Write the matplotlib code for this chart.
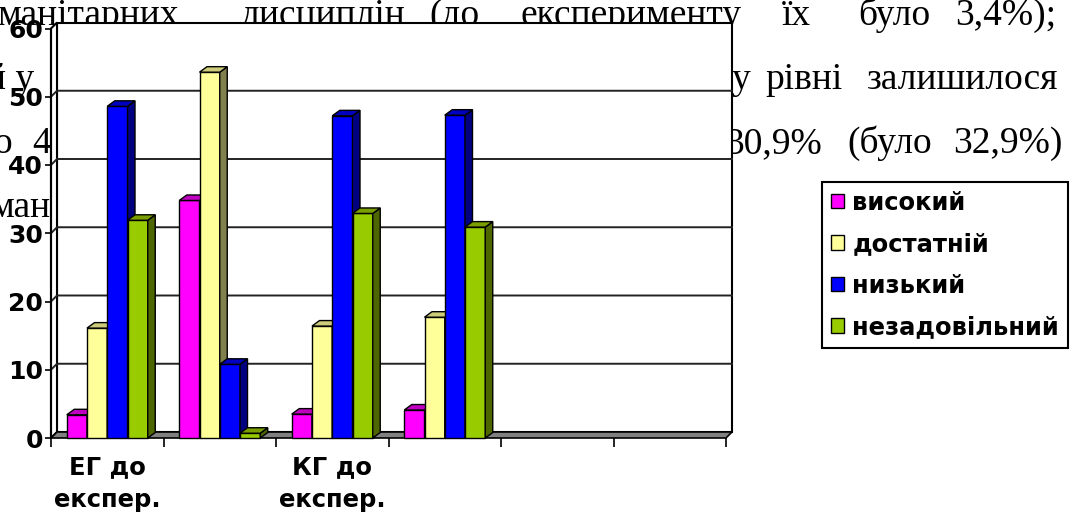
import matplotlib
matplotlib.use("Agg")
import matplotlib.pyplot as plt
from matplotlib.patches import Polygon, Patch

# categories on the x axis (the last two columns are empty)
categories = ["ЕГ до\nекспер.", "ЕГ після\nекспер.", "КГ до\nекспер.", "КГ після\nекспер.", "", ""]
levels = ["високий", "достатній", "низький", "незадовільний"]

# percentages per level
high = [3.4, 34.8, 3.5, 4.1]
sufficient = [16.1, 53.6, 16.4, 17.7]
low = [48.6, 10.8, 47.2, 47.3]
poor = [31.9, 0.7, 32.9, 30.9]
yticks = [0, 10, 20, 30, 40, 50, 60]

front_colors = ["#FF00FF", "#FFFF99", "#0000FF", "#99CC00"]
top_colors = ["#C000C0", "#CCCC7A", "#0000C0", "#7A9E00"]
side_colors = ["#800080", "#80804D", "#000080", "#4D6600"]

# page text around the chart: (baseline y, [(word, left x), ...]) in pixels
page_lines = [
    (25, [("манітарних", -3), ("дисциплін", 241), ("(до", 429), ("експерименту", 520),
          ("їх", 782), ("було", 858), ("3,4%);", 955)]),
    (89, [("й у", -14), ("у", 731), ("рівні", 765), ("залишилося", 867)]),
    (153, [("о", -6), ("4", 32), ("30,9%", 725), ("(було", 847), ("32,9%)", 953)]),
    (217, [("ман", -10)]),
]

W, H = 1080, 515
fig = plt.figure(figsize=(W / 100, H / 100), dpi=100)

for y, words in page_lines:
    for word, x in words:
        fig.text(x / W, 1 - y / H, word, family="Liberation Serif", size=27,
                 ha="left", va="baseline", zorder=-1)

ax = fig.add_axes([51 / W, (H - 438) / H, 675 / W, 409.5 / H])
n = len(categories)
top = yticks[-1]
ax.set_xlim(0, n)
ax.set_ylim(0, top)
ax.patch.set_visible(False)

# pixel sizes of the 3d depth, converted to data units
sx = 675 / n
sy = 409.5 / top
wdx, wdy = 6 / sx, 6 / sy
bdx, bdy = 7.5 / sx, 5.5 / sy

# walls and floor
ax.add_patch(Polygon([(wdx, wdy), (n + wdx, wdy), (n + wdx, top + wdy), (wdx, top + wdy)],
                     closed=True, fc="white", ec="black", lw=1.5, zorder=1, clip_on=False))
ax.add_patch(Polygon([(0, 0), (wdx, wdy), (wdx, top + wdy), (0, top)],
                     closed=True, fc="white", ec="black", lw=1.5, zorder=1, clip_on=False))
for v in yticks[1:-1]:
    ax.plot([0, wdx, n + wdx], [v, v + wdy, v + wdy], color="#222222", lw=1.4,
            zorder=1.5, clip_on=False)
ax.add_patch(Polygon([(0, 0), (n, 0), (n + wdx, wdy), (wdx, wdy)],
                     closed=True, fc="#808080", ec="black", lw=1.2, zorder=2, clip_on=False))

# 3d columns: front, right side and top face
series = [high, sufficient, low, poor]
width = 0.18
start = (1 - width * len(series)) / 2
z = 3
for i in range(len(high)):
    for j, vals in enumerate(series):
        v = vals[i]
        x0 = i + start + j * width
        x1 = x0 + width
        faces = [
            ([(x0, 0), (x1, 0), (x1, v), (x0, v)], front_colors[j]),
            ([(x1, 0), (x1 + bdx, bdy), (x1 + bdx, v + bdy), (x1, v)], side_colors[j]),
            ([(x0, v), (x1, v), (x1 + bdx, v + bdy), (x0 + bdx, v + bdy)], top_colors[j]),
        ]
        for pts, c in faces:
            ax.add_patch(Polygon(pts, closed=True, fc=c, ec="black", lw=1,
                                 zorder=z, clip_on=False))
        z += 0.01

ax.set_yticks(yticks)
ax.set_yticklabels([str(t) for t in yticks], fontweight="bold", fontsize=18,
                   family="DejaVu Sans")
ax.tick_params(axis="y", direction="out", length=4.3, width=1.2, pad=1.5)
ax.set_xticks([i + 0.5 for i in range(n)])
ax.set_xticklabels([c if i % 2 == 0 else "" for i, c in enumerate(categories)],
                   fontweight="bold", fontsize=17.5, family="DejaVu Sans",
                   linespacing=1.5)
ax.set_xticks(range(n + 1), minor=True)
ax.tick_params(axis="x", which="major", length=0, pad=12)
ax.tick_params(axis="x", which="minor", direction="out", length=6.5, width=1.2)
for s in ["top", "right", "bottom"]:
    ax.spines[s].set_visible(False)
ax.spines["left"].set_linewidth(1.5)

handles = [Patch(facecolor=c, edgecolor="black", lw=1) for c in front_colors]
leg = ax.legend(handles, levels, loc="upper left", bbox_to_anchor=(822 / W, 1 - 182 / H),
                bbox_transform=fig.transFigure, frameon=True, fancybox=False,
                edgecolor="black", framealpha=1, borderaxespad=0,
                prop={"family": "DejaVu Sans", "weight": "bold", "size": 17.5},
                handlelength=0.55, handleheight=0.55, handletextpad=0.35,
                labelspacing=0.72, borderpad=0.35)
leg.get_frame().set_linewidth(1.5)
leg.set_zorder(10)

fig.savefig("out.png", dpi=100)
